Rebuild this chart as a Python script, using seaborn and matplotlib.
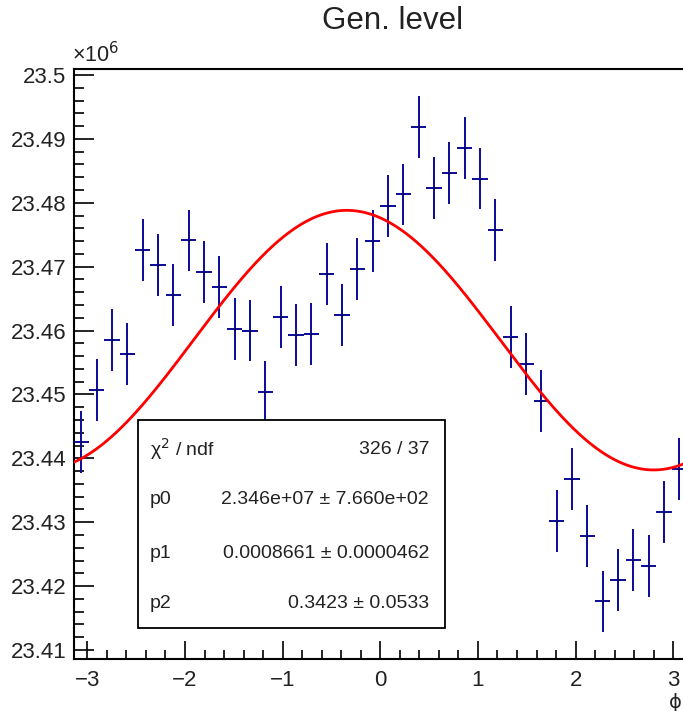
import numpy as np
import pandas as pd
import matplotlib
matplotlib.use("Agg")
import matplotlib.pyplot as plt
import seaborn as sns
from matplotlib.patches import Rectangle
from matplotlib.ticker import MultipleLocator, FixedLocator, FuncFormatter

# ---- data (counts in units of 1e6) ----
n_bins = 40
counts = [23.4425, 23.4507, 23.4585, 23.4563, 23.4726, 23.4703, 23.4655, 23.4741,
          23.4691, 23.4668, 23.4603, 23.4600, 23.4504, 23.4621, 23.4593, 23.4595,
          23.4688, 23.4625, 23.4697, 23.4740, 23.4795, 23.4813, 23.4919, 23.4823,
          23.4846, 23.4886, 23.4838, 23.4758, 23.4590, 23.4547, 23.4490, 23.4302,
          23.4367, 23.4279, 23.4176, 23.4209, 23.4241, 23.4231, 23.4316, 23.4383]
fit_p0 = 23.4585e6
fit_p1 = 0.0008661
fit_p2 = 0.3423
stats_labels = ["χ$^2$ / ndf", "p0", "p1", "p2"]
stats_values = ["326 / 37", "2.346e+07 ± 7.660e+02", "0.0008661 ± 0.0000462", "0.3423 ± 0.0533"]
y_ticks = [23.41, 23.42, 23.43, 23.44, 23.45, 23.46, 23.47, 23.48, 23.49, 23.5]
x_ticks = [-3, -2, -1, 0, 1, 2, 3]
title = "Gen. level"
x_label = "ϕ"

# ---- derived ----
edges = np.linspace(-np.pi, np.pi, n_bins + 1)
centers = 0.5 * (edges[:-1] + edges[1:])
half_w = 0.5 * (edges[1] - edges[0])
counts_arr = np.array(counts)
errs = np.sqrt(counts_arr * 1e6) / 1e6
df = pd.DataFrame({"phi": centers, "N": counts_arr, "err": errs})

xf = np.linspace(-np.pi, np.pi, 600)
fit_df = pd.DataFrame({"phi": xf,
                       "f": fit_p0 * (1 + fit_p1 * np.cos(xf + fit_p2)) / 1e6})

sns.set_theme(style="white")
plt.rcParams["font.family"] = ["Liberation Sans", "DejaVu Sans"]
plt.rcParams["axes.unicode_minus"] = True

W, H = 683, 711
fig = plt.figure(figsize=(W / 100, H / 100), dpi=100)
ax = fig.add_axes([73.5 / W, (H - 659) / H, 613.6 / W, 590 / H])

blue = "#0a0a96"
ax.errorbar(df["phi"], df["N"], xerr=half_w, yerr=df["err"], fmt="none",
            ecolor=blue, elinewidth=1.4, capsize=0, zorder=3)
sns.scatterplot(data=df, x="phi", y="N", ax=ax, marker=".", s=4,
                color="black", linewidth=0, zorder=4, legend=False)
sns.lineplot(data=fit_df, x="phi", y="f", ax=ax, color="#ff0000",
             linewidth=2.0, zorder=5, legend=False)

ax.set_xlim(-np.pi, np.pi)
ax.set_ylim(23.40859, 23.50094)
ax.set_xlabel("")
ax.set_ylabel("")

ax.xaxis.set_major_locator(FixedLocator(x_ticks))
ax.xaxis.set_minor_locator(MultipleLocator(0.2))
ax.yaxis.set_major_locator(FixedLocator(y_ticks))
ax.yaxis.set_minor_locator(MultipleLocator(0.002))
ax.yaxis.set_major_formatter(FuncFormatter(lambda v, p: f"{v:g}"))
ax.xaxis.set_major_formatter(FuncFormatter(lambda v, p: f"{int(round(v))}".replace("-", "\u2212")))

ax.tick_params(axis="both", which="both", direction="in", top=False, right=False,
               bottom=True, left=True,
               colors="black", labelcolor="#222222", width=1.2)
ax.tick_params(axis="y", which="major", length=14.5, labelsize=16, pad=5)
ax.tick_params(axis="y", which="minor", length=7)
ax.tick_params(axis="x", which="major", length=12.7, labelsize=16, pad=8)
ax.tick_params(axis="x", which="minor", length=6.3)

for s in ["left", "bottom", "top"]:
    ax.spines[s].set_visible(True)
    ax.spines[s].set_color("black")
    ax.spines[s].set_linewidth(1.5)
ax.spines["right"].set_visible(False)

# title
fig.text(393 / W, 1 - 21 / H, title, ha="center", va="center", fontsize=22.5, color="#222222")
# exponent
fig.text(72 / W, 1 - 62 / H, "×10$^{6}$", ha="left", va="baseline", fontsize=15.5, color="#222222")
# x label
fig.text(682 / W, 1 - 702 / H, x_label, ha="right", va="center", fontsize=14,
         color="#222222", family=["DejaVu Sans"])

# stats box
x0, x1 = 137.5 / W, 445 / W
yb, yt = 1 - 628 / H, 1 - 420 / H
fig.patches.append(Rectangle((x0, yb), x1 - x0, yt - yb, transform=fig.transFigure,
                             facecolor="white", edgecolor="black", linewidth=1.3, zorder=10))
rows_y = [449, 500, 553, 603]
for lab, val, yy in zip(stats_labels, stats_values, rows_y):
    fig.text(150 / W, 1 - yy / H, lab, ha="left", va="center", fontsize=14,
             color="#222222", zorder=11)
    fig.text(429 / W, 1 - yy / H, val, ha="right", va="center", fontsize=14,
             color="#222222", zorder=11)

fig.savefig("out.png", dpi=100)
